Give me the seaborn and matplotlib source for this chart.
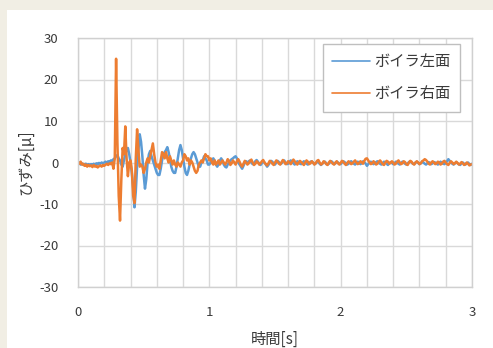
import numpy as np
import pandas as pd
import matplotlib
matplotlib.use("Agg")
import matplotlib.pyplot as plt
import seaborn as sns
from matplotlib.patches import Rectangle

# strain readings, one value per 0.01 s, rows of 0.1 s
left_face = [
    -0.3, 0.0, -0.5, -0.2, -0.6, -0.4, -0.3, -0.7, -0.4, -0.5,
    -0.4, -0.6, -0.3, -0.5, -0.2, -0.4, -0.1, -0.3, 0.0, -0.2,
    0.0, 0.2, -0.1, 0.3, 0.1, 0.5, 0.3, 0.8, 1.0, 1.5,
    1.8, 1.0, 0.5, -0.5, -1.0, 0.5, 2.0, 3.0, 3.5, 2.0,
    0.0, -2.5, -6.0, -10.8, -7.0, -1.0, 3.0, 6.8, 5.0, 1.5,
    -3.0, -6.3, -4.0, 0.0, 2.0, 2.8, 1.5, 0.5, -0.5, -1.5,
    -2.5, -3.0, -3.0, -1.5, 0.5, 2.0, 2.5, 3.0, 3.7, 2.5,
    1.0, -1.0, -2.0, -2.5, -2.5, -1.0, 1.0, 3.0, 4.2, 3.0,
    1.0, -1.0, -2.5, -3.0, -2.0, -0.5, 1.0, 2.0, 2.5, 2.0,
    1.0, 0.0, -1.0, -1.0, 0.0, 0.5, 1.5, 1.0, 0.5, -0.5,
    -0.5, 0.0, 0.5, 1.0, 0.5, -0.5, -1.0, -0.5, 0.5, 1.0,
    0.5, -0.5, -1.0, -1.2, -0.5, 0.0, 0.5, 0.8, 1.0, 1.3,
    1.5, 1.0, 0.0, -0.5, -1.0, -1.5, -0.8, 0.0, 0.3, -0.2,
    0.3, 0.5, 0.0, -0.4, -0.2, 0.3, 0.6, 0.2, -0.3, -0.6,
    -0.2, 0.3, 0.0, -0.5, -1.0, -0.6, 0.0, 0.4, 0.2, -0.3,
    -0.5, 0.0, 0.4, 0.1, -0.4, -0.2, 0.3, 0.5, 0.0, -0.4,
    -0.3, 0.2, 0.5, 0.2, -0.2, -0.5, -0.1, 0.3, 0.1, -0.3,
    -0.4, 0.0, 0.3, 0.0, -0.3, -0.5, -0.2, 0.2, 0.3, -0.1,
    -0.4, -0.2, 0.2, 0.1, -0.3, -0.6, -0.3, 0.0, 0.2, -0.2,
    -0.5, -0.3, 0.1, 0.3, 0.0, -0.4, -0.2, 0.2, 0.0, -0.3,
    -0.4, 0.0, 0.3, 0.1, -0.2, -0.5, -0.3, 0.1, 0.3, 0.0,
    -0.3, -0.5, -0.1, 0.2, 0.0, -0.4, -0.2, 0.3, 0.1, -0.3,
    -0.8, -0.4, 0.0, 0.2, -0.1, -0.4, -0.2, 0.1, 0.3, 0.0,
    -0.3, -0.5, -0.2, 0.2, 0.0, -0.3, -0.6, -0.2, 0.1, -0.1,
    -0.4, -0.2, 0.2, 0.0, -0.3, -0.5, -0.1, 0.2, 0.0, -0.3,
    -0.5, -0.2, 0.1, 0.3, 0.0, -0.3, -0.4, 0.0, 0.2, -0.1,
    -0.4, -0.2, 0.2, 0.0, -0.3, -0.5, -0.2, 0.1, -0.1, -0.4,
    -0.2, 0.1, 0.0, -0.3, -0.5, -0.1, 0.2, 0.0, -0.3, -0.4,
    -0.1, 0.3, 0.8, 0.4, 0.0, -0.3, -0.5, -0.2, 0.1, -0.2,
    -0.4, -0.6, -0.2, 0.0, -0.3, -0.5, -0.2, 0.0, -0.4, -0.6,
    -0.3,
]

right_face = [
    0.0, -0.3, 0.2, -0.5, -0.3, -0.8, -0.5, -1.0, -0.6, -0.9,
    -0.7, -1.1, -0.6, -1.0, -0.8, -1.2, -0.9, -0.7, -1.0, -0.6,
    -0.8, -0.5, -0.3, -0.6, -0.2, -0.4, 0.0, -1.5, 1.0, 25.0,
    5.0, -8.0, -14.0, -4.0, 3.5, 2.0, 8.7, 1.0, -3.3, 0.0,
    0.5, -2.0, -8.0, -9.8, 1.0, 8.0, 3.0, -1.0, -0.5, -1.0,
    -2.5, -1.5, 0.0, 1.0, 0.0, 1.5, 3.0, 4.6, 2.0, 0.0,
    -1.0, -0.5, -1.5, 0.5, 2.5, 2.0, 1.0, 2.5, 1.0, 0.0,
    1.5, 0.5, -0.5, 0.5, -0.5, -1.0, 0.0, -0.5, -1.0, 0.0,
    0.5, 2.0, 1.5, 0.5, 1.0, -0.5, 0.5, 0.0, -1.0, -2.0,
    -2.5, -2.0, -0.5, 0.0, 0.5, 0.0, 1.0, 2.0, 1.5, 1.5,
    0.5, 1.0, 0.0, -0.5, 0.5, -0.5, 0.0, 0.5, -0.5, 0.0,
    0.5, 0.0, -0.5, 0.0, 0.8, 0.3, -0.6, -0.2, 0.5, 0.0,
    -0.5, 0.3, 0.8, 0.2, -0.6, -1.0, -0.3, 0.4, 0.0, -0.5,
    -0.2, 0.4, 0.7, 0.0, -0.6, -0.3, 0.3, 0.0, -0.5, -0.2,
    0.3, 0.6, 0.0, -0.4, -0.7, -0.2, 0.4, 0.2, -0.3, -0.6,
    0.0, 0.5, 0.2, -0.3, -0.5, 0.1, 0.6, 0.2, -0.4, -0.2,
    0.3, 0.0, -0.4, 0.2, 0.7, 0.3, -0.2, -0.5, 0.0, 0.4,
    0.1, -0.3, -0.6, 0.0, 0.5, 0.2, -0.4, -0.2, 0.3, 0.0,
    -0.5, -0.2, 0.4, 0.6, 0.0, -0.5, -0.3, 0.3, 0.1, -0.4,
    -0.6, 0.0, 0.4, 0.1, -0.3, -0.5, 0.0, 0.3, -0.2, -0.5,
    -0.1, 0.4, 0.2, -0.3, -0.6, -0.1, 0.3, 0.0, -0.4, -0.2,
    0.2, 0.5, 0.0, -0.4, -0.2, 0.3, 0.1, -0.3, 0.4, 0.9,
    1.0, 0.5, 0.0, -0.4, -0.2, 0.3, 0.0, -0.5, -0.3, 0.2,
    0.5, 0.1, -0.4, -0.6, 0.0, 0.4, 0.2, -0.3, -0.1, 0.3,
    0.0, -0.5, -0.3, 0.2, 0.5, 0.0, -0.4, -0.2, 0.3, 0.1,
    -0.4, -0.6, 0.0, 0.4, 0.2, -0.3, -0.5, 0.0, 0.3, 0.0,
    -0.4, -0.2, 0.3, 0.5, 0.8, 0.6, 0.2, -0.3, -0.5, 0.0,
    0.3, 0.0, -0.4, -0.2, 0.2, 0.0, -0.5, -0.3, 0.2, 0.4,
    0.0, -0.4, -0.6, -0.1, 0.3, 0.0, -0.4, -0.2, 0.2, -0.1,
    -0.5, -0.3, 0.1, -0.2, -0.6, -0.4, 0.0, -0.3, -0.7, -0.5,
    -0.4,
]

series_names = ["ボイラ左面", "ボイラ右面"]
series_colors = ["#5B9BD5", "#ED7D31"]
x_ticks = [0, 1, 2, 3]
y_ticks = [-30, -20, -10, 0, 10, 20, 30]

# sample times: 100 samples per second
time_s = np.round(np.arange(len(left_face)) * 0.01, 2)

df = pd.concat([
    pd.DataFrame({"time": time_s, "strain": left_face, "series": series_names[0]}),
    pd.DataFrame({"time": time_s, "strain": right_face, "series": series_names[1]}),
])

sns.set_theme(style="whitegrid")
plt.rcParams["font.family"] = ["Noto Sans CJK JP", "DejaVu Sans"]

fig = plt.figure(figsize=(4.93, 3.48), dpi=100, facecolor="#F1EEE4")
# white card behind the chart
fig.patches.append(Rectangle((7 / 493, 0), 1, 1 - 10 / 348, transform=fig.transFigure,
                             facecolor="white", edgecolor="none", zorder=-10))
ax = fig.add_axes([78 / 493, 1 - 287 / 348, 394 / 493, 249 / 348])
ax.set_zorder(1)

sns.lineplot(data=df, x="time", y="strain", hue="series", palette=series_colors,
             linewidth=1.8, ax=ax, legend=True)

# gridlines every 0.2 s, labels only on whole seconds
grid_x = np.round(np.arange(16) * 0.2, 1)
ax.set_xlim(0, 3)
ax.set_ylim(-30, 30)
ax.set_xticks(grid_x)
ax.set_xticklabels([str(int(v)) if v in x_ticks else "" for v in grid_x])
ax.set_yticks(y_ticks)
ax.set_yticklabels([str(v) for v in y_ticks])
ax.tick_params(axis="both", length=0, labelsize=9.5, colors="#3A3A3A")
ax.tick_params(axis="y", pad=14)
ax.tick_params(axis="x", pad=14)
ax.grid(True, color="#D9D9D9", linewidth=1.0)
ax.set_facecolor("white")
for sp in ax.spines.values():
    sp.set_color("#D0D0D0")
    sp.set_linewidth(1.0)

ax.set_xlabel("時間[s]", fontsize=11, color="#3A3A3A", labelpad=8)
ax.set_ylabel("ひずみ[μ]", fontsize=11, color="#3A3A3A", labelpad=4)

handles, labels = ax.get_legend_handles_labels()
leg = ax.legend(handles, labels, loc="upper right", bbox_to_anchor=(0.9695, 0.976),
                fontsize=11, frameon=True, fancybox=False, framealpha=1,
                edgecolor="#BFBFBF", handlelength=2.5, handletextpad=0.3,
                labelspacing=1.0, borderpad=0.6, borderaxespad=0)
for line in leg.get_lines():
    line.set_linewidth(1.2)
for txt in leg.get_texts():
    txt.set_color("#3A3A3A")

fig.savefig("out.png", dpi=100, facecolor=fig.get_facecolor())
